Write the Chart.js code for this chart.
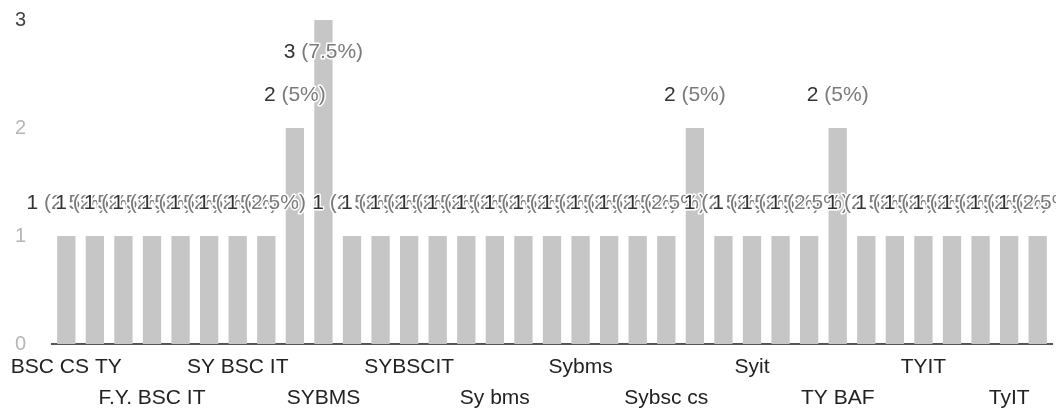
<!DOCTYPE html>
<html>
<head>
<meta charset="utf-8">
<script src="https://cdn.jsdelivr.net/npm/chart.js@4/dist/chart.umd.min.js"></script>
<style>
  html, body { margin: 0; padding: 0; background: #fff; }
  #wrap { width: 1056px; height: 414px; position: relative; }
</style>
</head>
<body>
<div id="wrap"><canvas id="c"></canvas></div>
<script>
// Categories (answers sorted as in the form summary; only every third is labelled)
const categories = [
  "BSC CS TY", "BSC IT", "F.Y BSC IT", "F.Y. BSC IT", "FYBSC IT", "SY BAF",
  "SY BSC IT", "SY IT", "SYBAF", "SYBMS", "SYBSC CS", "SYBSC IT",
  "SYBSCIT", "SYIT", "Sy BSC IT", "Sy bms", "Sy bsc it", "Sy it",
  "Sybms", "Sybsc", "Sybsc IT", "Sybsc cs", "Sybsc it", "Sybscit",
  "Syit", "TY B.Com", "TY BA", "TY BAF", "TY BMS", "TY BSC IT",
  "TYIT", "Ty BSC IT", "Ty bsc it", "TyIT", "Tybsc it"
];
// Response counts per category
const counts = [
  1, 1, 1, 1, 1, 1, 1, 1, 2, 3,
  1, 1, 1, 1, 1, 1, 1, 1, 1, 1,
  1, 1, 2, 1, 1, 1, 1, 2, 1, 1,
  1, 1, 1, 1, 1
];
const yTicks = [0, 1, 2, 3];

const total = counts.reduce((a, b) => a + b, 0);
const FONT = "'Liberation Sans', Arial, sans-serif";

const labelPlugin = {
  id: 'barLabels',
  afterDatasetsDraw(chart) {
    const ctx = chart.ctx;
    const meta = chart.getDatasetMeta(0);
    const top = chart.chartArea.top;
    ctx.save();
    ctx.font = "21px " + FONT;
    ctx.textBaseline = 'middle';
    ctx.textAlign = 'left';
    ctx.lineJoin = 'round';
    meta.data.forEach((bar, i) => {
      const v = counts[i];
      const pct = Math.round(v / total * 1000) / 10;
      const a = v + ' ';
      const b = '(' + pct + '%)';
      const wa = ctx.measureText(a).width;
      const wb = ctx.measureText(b).width;
      const x0 = bar.x - (wa + wb) / 2;
      let y = bar.y - 33;
      if (y < top + 32) y = top + 32;
      ctx.strokeStyle = '#ffffff';
      ctx.lineWidth = 3;
      ctx.strokeText(a, x0, y);
      ctx.strokeText(b, x0 + wa, y);
      ctx.fillStyle = '#333333';
      ctx.fillText(a, x0, y);
      ctx.fillStyle = '#7a7a7a';
      ctx.fillText(b, x0 + wa, y);
    });
    ctx.restore();
  }
};

new Chart(document.getElementById('c'), {
  type: 'bar',
  data: {
    labels: categories,
    datasets: [{
      data: counts,
      backgroundColor: '#c6c6c6',
      borderWidth: 0,
      categoryPercentage: 1,
      barPercentage: 0.64
    }]
  },
  options: {
    responsive: true,
    maintainAspectRatio: false,
    animation: false,
    layout: { padding: { top: 20, right: 4, left: 0, bottom: 0 } },
    plugins: { legend: { display: false }, tooltip: { enabled: false } },
    scales: {
      x: {
        grid: { display: false, drawTicks: false },
        border: { display: true, color: '#555555', width: 2 },
        afterFit: (s) => { s.height = 70; },
        ticks: {
          autoSkip: false,
          maxRotation: 0,
          minRotation: 0,
          padding: 7,
          color: '#222222',
          font: { family: FONT, size: 21, lineHeight: 1.5 },
          callback: function (value, index) {
            if (index % 3 !== 0) return '';
            const lab = categories[index];
            return ((index / 3) % 2 === 0) ? lab : ['', lab];
          }
        }
      },
      y: {
        min: yTicks[0],
        max: yTicks[yTicks.length - 1],
        grid: { display: false, drawTicks: false },
        border: { display: false },
        afterFit: (s) => { s.width = 52; s.paddingTop = 0; s.paddingBottom = 0; },
        afterBuildTicks: (s) => { s.ticks = yTicks.map(v => ({ value: v })); },
        ticks: {
          padding: 26,
          font: { family: FONT, size: 20 },
          color: (c) => (c.tick && c.tick.value === 3) ? '#444444' : '#b5b5b5'
        }
      }
    }
  },
  plugins: [labelPlugin]
});
</script>
</body>
</html>
